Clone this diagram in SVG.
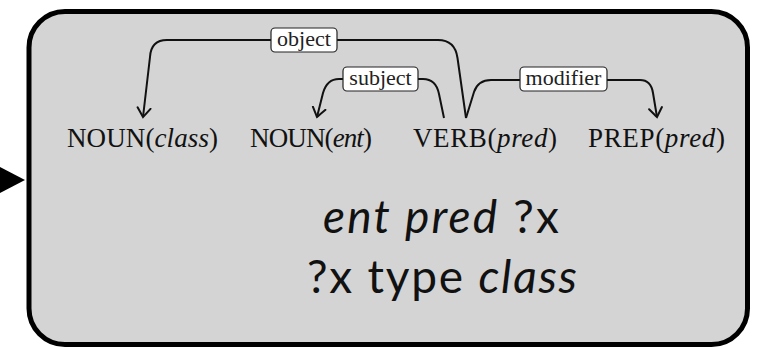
<svg xmlns="http://www.w3.org/2000/svg" width="764" height="347" viewBox="0 0 764 347">
  <style>
    .word { font-family: "Liberation Serif", "DejaVu Serif", serif; font-size: 27px; fill: #111; }
    .it { font-style: italic; }
    .edge { fill: none; stroke: #111; stroke-width: 2; stroke-linejoin: round; }
    .tag rect { fill: #fff; stroke: #222; stroke-width: 1.2; }
    .tag text { font-family: "Liberation Serif", "DejaVu Serif", serif; font-size: 22px; fill: #222; text-anchor: middle; }
    .query { font-family: "Lato", "Open Sans", sans-serif; font-size: 46px; fill: #111; text-anchor: middle; }
  </style>
  <defs>
    <marker id="head" markerUnits="userSpaceOnUse" markerWidth="20" markerHeight="20" viewBox="-10 -10 20 20" refX="0" refY="0" orient="auto">
      <path d="M -9,-6.5 Q -2,-1.5 0,0 Q -2,1.5 -9,6.5" fill="none" stroke="#111" stroke-width="2" stroke-linecap="round"/>
    </marker>
  </defs>

  <!-- incoming arrow -->
  <polygon points="-2,166 25,180 -2,194" fill="#000"/>

  <!-- container -->
  <g id="frame">
    <rect x="29" y="11.5" width="718.5" height="333" rx="36" ry="36" fill="#d4d4d4" stroke="#000" stroke-width="5"/>
  </g>

  <!-- dependency arcs -->
  <g id="connectors">
    <path class="edge" marker-end="url(#head)" d="M 466,118 L 457.5,58 Q 455,40 438,40 L 167,40 Q 151,40 150,57 L 143,117"/>
    <path class="edge" marker-end="url(#head)" d="M 444,118 L 439,94 Q 436,79 423,79 L 339,79 Q 327,79 323,93 L 317,117"/>
    <path class="edge" marker-end="url(#head)" d="M 466,118 L 474,92 Q 478,80 491,80 L 640,80 Q 651,80 653,93 L 657,117"/>
    <g class="tag">
      <rect x="271" y="28" width="66" height="24" rx="4"/>
      <text x="304" y="46">object</text>
    </g>
    <g class="tag">
      <rect x="343" y="67" width="75" height="24" rx="4"/>
      <text x="380.5" y="85">subject</text>
    </g>
    <g class="tag">
      <rect x="520" y="67" width="87" height="24" rx="4"/>
      <text x="563.5" y="85">modifier</text>
    </g>
  </g>

  <!-- words -->
  <g id="noun-class">
    <text class="word" x="67" y="147" textLength="151" lengthAdjust="spacing">NOUN(<tspan class="it">class</tspan>)</text>
  </g>
  <g id="noun-ent">
    <text class="word" x="250" y="147" textLength="122" lengthAdjust="spacing">NOUN(<tspan class="it">ent</tspan>)</text>
  </g>
  <g id="verb-pred">
    <text class="word" x="413" y="147" textLength="144" lengthAdjust="spacing">VERB(<tspan class="it">pred</tspan>)</text>
  </g>
  <g id="prep-pred">
    <text class="word" x="588" y="147" textLength="137" lengthAdjust="spacing">PREP(<tspan class="it">pred</tspan>)</text>
  </g>

  <!-- resulting triples -->
  <g id="query">
    <text class="query" x="441" y="233" textLength="236" lengthAdjust="spacing"><tspan font-style="italic">ent pred</tspan> ?x</text>
    <text class="query" x="442" y="293" textLength="270" lengthAdjust="spacing">?x type <tspan font-style="italic">class</tspan></text>
  </g>
</svg>
